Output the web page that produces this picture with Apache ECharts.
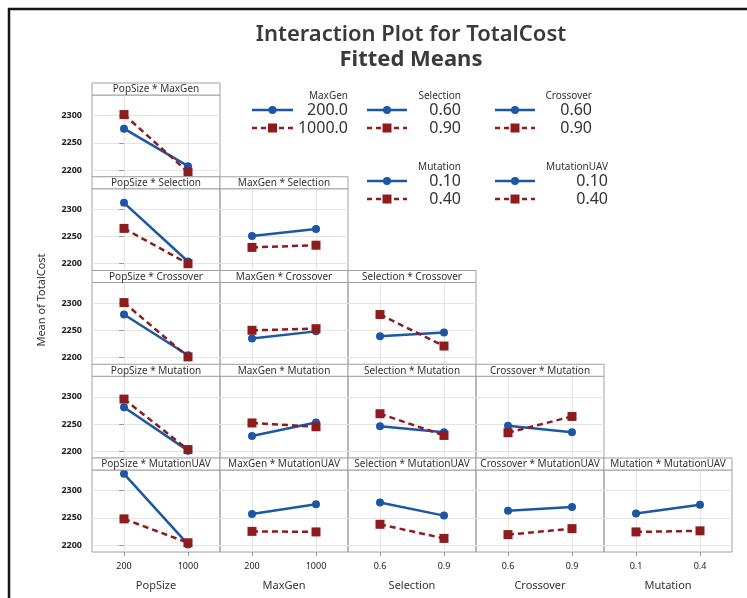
<!DOCTYPE html>
<html>
<head>
<meta charset="utf-8">
<script src="https://cdn.jsdelivr.net/npm/echarts@6/dist/echarts.min.js"></script>
<style>
html, body { margin: 0; padding: 0; background: #fff; overflow: hidden; }
#main { width: 747px; height: 598px; }
</style>
</head>
<body>
<div id="main"></div>
<script>
// factor names, in the order they appear along the diagonal
var factors = ['PopSize', 'MaxGen', 'Selection', 'Crossover', 'Mutation', 'MutationUAV'];
// x tick labels for each factor (bottom row)
var xTicks = {
    PopSize: ['200', '1000'],
    MaxGen: ['200', '1000'],
    Selection: ['0.6', '0.9'],
    Crossover: ['0.6', '0.9'],
    Mutation: ['0.1', '0.4']
};
// legend levels for the trace factors
var legendLevels = {
    MaxGen: ['200.0', '1000.0'],
    Selection: ['0.60', '0.90'],
    Crossover: ['0.60', '0.90'],
    Mutation: ['0.10', '0.40'],
    MutationUAV: ['0.10', '0.40']
};
var yTicks = [2200, 2250, 2300];

// fitted means: [low level of trace factor], [high level of trace factor]
var popSize_maxGen = [[2276, 2207], [2302, 2196]];

var popSize_selection = [[2312, 2204], [2265, 2200]];
var maxGen_selection = [[2251, 2264], [2230, 2234]];

var popSize_crossover = [[2279, 2204], [2301, 2201]];
var maxGen_crossover = [[2235, 2248], [2250, 2253]];
var selection_crossover = [[2239, 2246], [2279, 2221]];

var popSize_mutation = [[2281, 2201], [2296, 2203]];
var maxGen_mutation = [[2228, 2253], [2252, 2245]];
var selection_mutation = [[2246, 2235], [2269, 2229]];
var crossover_mutation = [[2247, 2235], [2234, 2264]];

var popSize_mutationUAV = [[2331, 2201], [2248, 2204]];
var maxGen_mutationUAV = [[2257, 2275], [2225, 2224]];
var selection_mutationUAV = [[2278, 2254], [2238, 2212]];
var crossover_mutationUAV = [[2263, 2270], [2219, 2230]];
var mutation_mutationUAV = [[2258, 2274], [2224, 2226]];

var panelRows = [
    [popSize_maxGen],
    [popSize_selection, maxGen_selection],
    [popSize_crossover, maxGen_crossover, selection_crossover],
    [popSize_mutation, maxGen_mutation, selection_mutation, crossover_mutation],
    [popSize_mutationUAV, maxGen_mutationUAV, selection_mutationUAV, crossover_mutationUAV, mutation_mutationUAV]
];

var BLUE = '#1d56a3';
var RED = '#8e1c1f';
var FONT = 'Noto Sans';

var PANEL_LEFT = 92, PANEL_W = 128, ROW_TOP = 83, ROW_H = 93.75, STRIP_H = 12, PLOT_H = 82;
var Y_MIN = 2187, Y_MAX = 2338;

var grids = [], xAxes = [], yAxes = [], series = [], graphics = [];

panelRows.forEach(function (row, r) {
    var trace = factors[r + 1];
    row.forEach(function (means, c) {
        var xf = factors[c];
        var gi = grids.length;
        var left = PANEL_LEFT + PANEL_W * c;
        var rowTop = ROW_TOP + ROW_H * r;
        var isBottom = (r === panelRows.length - 1);
        var isLeft = (c === 0);
        grids.push({
            left: left, top: rowTop + STRIP_H, width: PANEL_W, height: PLOT_H,
            show: true, borderColor: '#a0a0a0', borderWidth: 1, backgroundColor: 'transparent'
        });
        xAxes.push({
            gridIndex: gi, type: 'value', min: -0.5, max: 1.5,
            axisLine: { show: false },
            axisTick: { show: isBottom, customValues: [0, 1], length: 4, lineStyle: { color: '#999' } },
            axisLabel: {
                show: isBottom, customValues: [0, 1], margin: 10,
                fontSize: 9, color: '#222', fontFamily: FONT,
                formatter: (function (labels) { return function (v) { return labels[Math.round(v)]; }; })(xTicks[xf])
            },
            splitLine: { show: true, lineStyle: { color: '#e4e4e4', width: 1 } },
            name: isBottom ? xf : '', nameLocation: 'middle', nameGap: 28,
            nameTextStyle: { fontSize: 11, color: '#333', fontFamily: FONT }
        });
        yAxes.push({
            gridIndex: gi, type: 'value', min: Y_MIN, max: Y_MAX,
            axisLine: { show: false },
            axisTick: { show: isLeft, customValues: yTicks, length: 5, lineStyle: { color: '#999' } },
            axisLabel: {
                show: isLeft, customValues: yTicks, margin: 10, fontSize: 9, color: '#222',
                fontFamily: FONT, fontWeight: 'bold',
                formatter: function (v) { return String(Math.round(v)); }
            },
            splitLine: { show: true, lineStyle: { color: '#e4e4e4', width: 1 } }
        });
        series.push({
            type: 'line', xAxisIndex: gi, yAxisIndex: gi,
            data: [[0, means[0][0]], [1, means[0][1]]],
            symbol: 'circle', symbolSize: 8, showSymbol: true,
            lineStyle: { color: BLUE, width: 2.5 },
            itemStyle: { color: BLUE },
            animation: false, silent: true, z: 3
        });
        series.push({
            type: 'line', xAxisIndex: gi, yAxisIndex: gi,
            data: [[0, means[1][0]], [1, means[1][1]]],
            symbol: 'rect', symbolSize: 9, showSymbol: true,
            lineStyle: { color: RED, width: 2.5, type: [6, 4] },
            itemStyle: { color: RED },
            animation: false, silent: true, z: 4
        });
        // panel strip with its title
        graphics.push({
            type: 'rect', shape: { x: left, y: rowTop, width: PANEL_W, height: STRIP_H },
            style: { fill: '#fff', stroke: '#a0a0a0', lineWidth: 1 }, z: 10
        });
        graphics.push({
            type: 'text', x: left + PANEL_W / 2, y: rowTop + STRIP_H / 2 + 0.5,
            style: { text: xf + ' * ' + trace, fill: '#333', font: '10px "' + FONT + '"', align: 'center', verticalAlign: 'middle' },
            z: 11
        });
    });
});

// legend blocks (built from the trace factor levels)
var legendPos = [
    { f: 'MaxGen', right: 348, x1: 252, x2: 293, y: 96 },
    { f: 'Selection', right: 461, x1: 367, x2: 407, y: 96 },
    { f: 'Crossover', right: 592, x1: 495, x2: 535, y: 96 },
    { f: 'Mutation', right: 461, x1: 367, x2: 407, y: 167 },
    { f: 'MutationUAV', right: 608, x1: 495, x2: 535, y: 167 }
];
legendPos.forEach(function (p) {
    var lv = legendLevels[p.f];
    var y1 = p.y + 14, y2 = p.y + 32;
    var mx = (p.x1 + p.x2) / 2;
    graphics.push({ type: 'text', x: p.right, y: p.y, style: { text: p.f, fill: '#333', font: '10px "' + FONT + '"', align: 'right', verticalAlign: 'middle' } });
    graphics.push({ type: 'line', shape: { x1: p.x1, y1: y1, x2: p.x2, y2: y1 }, style: { stroke: BLUE, lineWidth: 2.5 } });
    graphics.push({ type: 'circle', shape: { cx: mx, cy: y1, r: 4 }, style: { fill: BLUE } });
    graphics.push({ type: 'text', x: p.right, y: y1, style: { text: lv[0], fill: '#333', font: '16px "' + FONT + '"', align: 'right', verticalAlign: 'middle' } });
    graphics.push({ type: 'line', shape: { x1: p.x1, y1: y2, x2: p.x2, y2: y2 }, style: { stroke: RED, lineWidth: 2.5, lineDash: [5, 4] } });
    graphics.push({ type: 'rect', shape: { x: mx - 4.5, y: y2 - 4.5, width: 9, height: 9 }, style: { fill: RED } });
    graphics.push({ type: 'text', x: p.right, y: y2, style: { text: lv[1], fill: '#333', font: '16px "' + FONT + '"', align: 'right', verticalAlign: 'middle' } });
});

// titles, y-axis caption and outer frame
graphics.push({ type: 'text', x: 411, y: 35, style: { text: 'Interaction Plot for TotalCost', fill: '#3a3a3a', font: '600 22px "' + FONT + '"', align: 'center', verticalAlign: 'middle' } });
graphics.push({ type: 'text', x: 411, y: 60, style: { text: 'Fitted Means', fill: '#3a3a3a', font: 'bold 22px "' + FONT + '"', align: 'center', verticalAlign: 'middle' } });
graphics.push({ type: 'text', x: 42, y: 300, rotation: Math.PI / 2, style: { text: 'Mean of TotalCost', fill: '#333', font: '11px "' + FONT + '"', align: 'center', verticalAlign: 'middle' } });
graphics.push({ type: 'line', shape: { x1: 8, y1: 9, x2: 747, y2: 9 }, style: { stroke: '#151515', lineWidth: 2.5 } });
graphics.push({ type: 'line', shape: { x1: 9, y1: 8, x2: 9, y2: 598 }, style: { stroke: '#151515', lineWidth: 2.5 } });

var dom = document.getElementById('main');
var myChart = echarts.init(dom, null, { renderer: 'canvas' });
var option = {
    backgroundColor: '#fff',
    animation: false,
    grid: grids,
    xAxis: xAxes,
    yAxis: yAxes,
    series: series,
    graphic: graphics
};
myChart.setOption(option, true);
</script>
</body>
</html>
